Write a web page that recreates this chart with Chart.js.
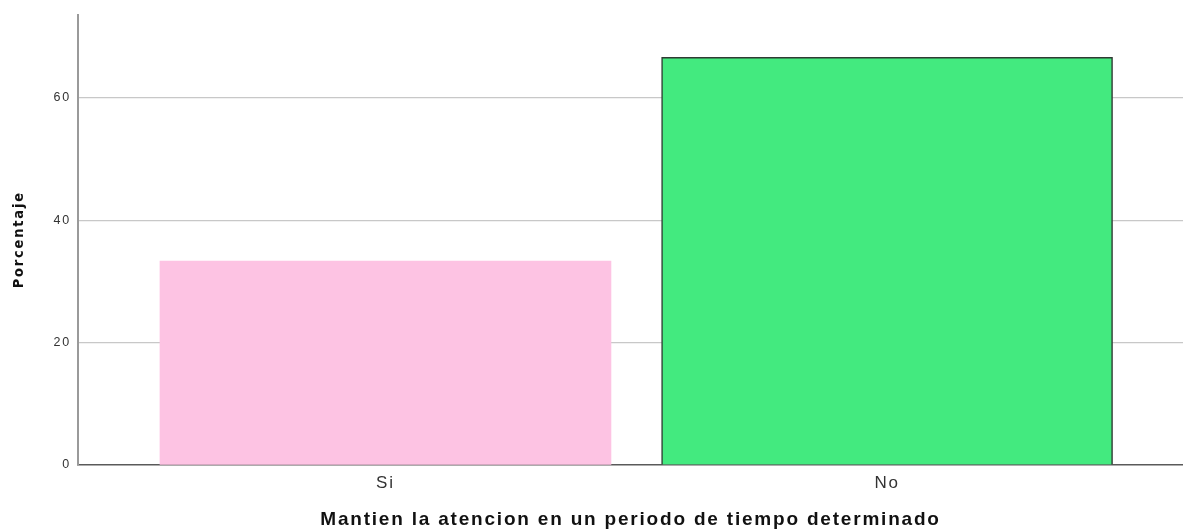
<!DOCTYPE html>
<html>
<head>
<meta charset="utf-8">
<script src="https://cdn.jsdelivr.net/npm/chart.js@4"></script>
<style>
  html, body { margin: 0; padding: 0; background: #fff; }
  #wrap { width: 1183px; height: 529px; }
</style>
</head>
<body>
<div id="wrap"><canvas id="chart" width="1183" height="529"></canvas></div>
<script>
// data
var categories = ['Si', 'No'];
var percents = [33.33, 66.67];
var yTicks = [0, 20, 40, 60];
var barColors = ['#fdc3e3', '#43ea7f'];
var xTitle = 'Mantien la atencion en un periodo de tiempo determinado';
var yTitle = 'Porcentaje';

var points = categories.map(function (c, i) { return { x: i + 1, y: percents[i] }; });

// the spss output draws its text a little spread out
var spacing = {
    id: 'spacing',
    beforeUpdate: function (chart) { chart.ctx.letterSpacing = '1.8px'; },
    beforeDraw: function (chart) { chart.ctx.letterSpacing = '1.8px'; }
};

var ctx = document.getElementById('chart').getContext('2d');
var chart = new Chart(ctx, {
    type: 'bar',
    plugins: [spacing],
    data: {
        datasets: [{
            data: points,
            backgroundColor: barColors,
            borderColor: ['rgba(0,0,0,0)', '#2f3b33'],
            borderWidth: [0, 1.5],
            barThickness: 451
        }]
    },
    options: {
        responsive: false,
        animation: false,
        layout: { padding: { top: 11, right: 0, left: 0, bottom: 0 } },
        scales: {
            x: {
                type: 'linear',
                offset: false,
                min: 0.387,
                max: 2.59,
                grid: { display: false, drawTicks: false },
                border: { color: '#5a5a5a', width: 1.5 },
                afterBuildTicks: function (scale) {
                    scale.ticks = categories.map(function (c, i) { return { value: i + 1 }; });
                },
                ticks: {
                    padding: 8,
                    color: '#333',
                    font: { family: 'Liberation Sans, Arial, sans-serif', size: 17 },
                    callback: function (v) { return categories[v - 1]; }
                },
                title: {
                    display: true,
                    text: xTitle,
                    color: '#111',
                    padding: { top: 0, bottom: -2 },
                    font: { family: 'Liberation Sans, Arial, sans-serif', size: 19, weight: 'bold' }
                },
                afterFit: function (scale) { scale.height = 64; }
            },
            y: {
                min: 0,
                max: 73.66,
                grid: {
                    drawTicks: false,
                    color: function (c) { return c.tick && c.tick.value === 0 ? 'rgba(0,0,0,0)' : '#c8c8c8'; },
                    lineWidth: 1.2
                },
                border: { color: '#9a9a9a', width: 2 },
                afterBuildTicks: function (scale) {
                    scale.ticks = yTicks.map(function (v) { return { value: v }; });
                },
                ticks: {
                    padding: 7,
                    color: '#333',
                    font: { family: 'Liberation Sans, Arial, sans-serif', size: 12.5 }
                },
                title: {
                    display: true,
                    text: yTitle,
                    color: '#111',
                    padding: { top: 11, bottom: 0 },
                    font: { family: 'Liberation Sans Narrow, DejaVu Sans Condensed, Arial Narrow, sans-serif', size: 14.5, weight: 'bold' }
                },
                afterFit: function (scale) { scale.width = 78; }
            }
        },
        plugins: {
            legend: { display: false },
            tooltip: { enabled: false }
        }
    }
});
</script>
</body>
</html>
